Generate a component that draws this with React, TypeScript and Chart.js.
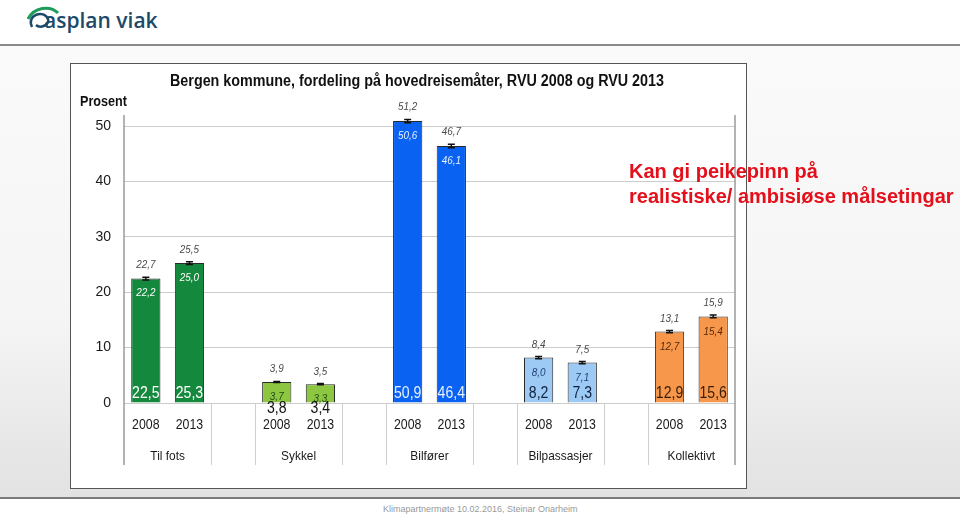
import React, { useEffect, useRef } from "react";
import { Chart, registerables } from "chart.js";
Chart.register(...registerables);

const groups = ["Til fots", "Sykkel", "Bilfører", "Bilpassasjer", "Kollektivt"];
const years = ["2008", "2013"];
const values = [22.5, 25.3, 3.8, 3.4, 50.9, 46.4, 8.2, 7.3, 12.9, 15.6];
const lowerCI = [22.2, 25.0, 3.7, 3.3, 50.6, 46.1, 8.0, 7.1, 12.7, 15.4];
const upperCI = [22.7, 25.5, 3.9, 3.5, 51.2, 46.7, 8.4, 7.5, 13.1, 15.9];
const groupColors = ["#14883c", "#8dc641", "#0a62f2", "#9ccaf4", "#f7974c"];
const valueTextColors = ["#ffffff", "#111111", "#e8f0ff", "#10223f", "#3a1c05"];
const lowerTextColors = ["#ffffff", "#1f4d12", "#e8f0ff", "#23407a", "#5a2a08"];
const yTicks = [0, 10, 20, 30, 40, 50];
const chartTitle = "Bergen kommune, fordeling på hovedreisemåter, RVU 2008 og RVU 2013";
const yTitle = "Prosent";

const fmt = (v: number) => v.toFixed(1).replace(".", ",");

// 14 slots: 2 bars per group, an empty slot between groups
const slotLabels: string[] = [];
const slotData: (number | null)[] = [];
const slotColors: string[] = [];
const barSlot: number[] = [];
groups.forEach((g, gi) => {
  years.forEach((y, yi) => {
    barSlot.push(slotLabels.length);
    slotLabels.push(y);
    slotData.push(values[gi * 2 + yi]);
    slotColors.push(groupColors[gi]);
  });
  if (gi < groups.length - 1) {
    slotLabels.push("");
    slotData.push(null);
    slotColors.push("rgba(0,0,0,0)");
  }
});

function drawText(
  ctx: CanvasRenderingContext2D,
  text: string,
  x: number,
  y: number,
  font: string,
  color: string,
  squash = 0.88,
  align: "center" | "left" = "center"
) {
  ctx.save();
  ctx.font = font;
  ctx.fillStyle = color;
  ctx.textBaseline = "middle";
  ctx.textAlign = align;
  ctx.translate(x, y);
  ctx.scale(squash, 1);
  ctx.fillText(text, 0, 0);
  ctx.restore();
}

const FONT = "'Liberation Sans', Arial, sans-serif";

const overlayPlugin = {
  id: "overlay",
  afterDatasetsDraw(chart: any) {
    const ctx: CanvasRenderingContext2D = chart.ctx;
    const xs = chart.scales.x;
    const ys = chart.scales.y;
    const area = chart.chartArea;
    const slotW = (area.right - area.left) / slotLabels.length;
    const below = 62;

    // axis / separator lines
    ctx.save();
    ctx.strokeStyle = "#9a9a9a";
    ctx.lineWidth = 1.5;
    ctx.beginPath();
    ctx.moveTo(area.left, area.top);
    ctx.lineTo(area.left, area.bottom + below);
    ctx.moveTo(area.right, area.top);
    ctx.lineTo(area.right, area.bottom + below);
    ctx.stroke();
    ctx.strokeStyle = "#cfcfcf";
    ctx.lineWidth = 1;
    ctx.beginPath();
    slotLabels.forEach((l, s) => {
      if (l === "") {
        const cx = xs.getPixelForValue(s);
        [cx - slotW / 2, cx + slotW / 2].forEach((lx) => {
          ctx.moveTo(Math.round(lx) + 0.5, area.bottom);
          ctx.lineTo(Math.round(lx) + 0.5, area.bottom + below);
        });
      }
    });
    ctx.stroke();
    ctx.restore();

    const y0 = ys.getPixelForValue(0);
    values.forEach((v, i) => {
      const gi = Math.floor(i / 2);
      const cx = xs.getPixelForValue(barSlot[i]);
      const yTop = ys.getPixelForValue(v);
      const yLo = ys.getPixelForValue(lowerCI[i]);
      const yHi = ys.getPixelForValue(upperCI[i]);
      // error bar
      ctx.save();
      ctx.strokeStyle = "#111";
      ctx.lineWidth = 1.5;
      ctx.beginPath();
      ctx.moveTo(cx, yLo);
      ctx.lineTo(cx, yHi);
      ctx.moveTo(cx - 3.5, yLo);
      ctx.lineTo(cx + 3.5, yLo);
      ctx.moveTo(cx - 3.5, yHi);
      ctx.lineTo(cx + 3.5, yHi);
      ctx.stroke();
      ctx.restore();
      // upper CI label
      drawText(ctx, fmt(upperCI[i]), cx, yHi - 12, `italic 11px ${FONT}`, "#4a4a4a", 0.9);
      // lower CI label
      drawText(ctx, fmt(lowerCI[i]), cx, yTop + 15, `italic 11px ${FONT}`, lowerTextColors[gi], 0.9);
      // value label
      const h = y0 - yTop;
      const vy = h < 30 ? y0 + 6 : y0 - 9;
      drawText(ctx, fmt(v), cx, vy, `16px ${FONT}`, valueTextColors[gi], 0.88);
      // year label
      drawText(ctx, years[i % 2], cx, area.bottom + 22, `14px ${FONT}`, "#1a1a1a", 0.88);
    });
    // group labels
    groups.forEach((g, gi) => {
      const cx = (xs.getPixelForValue(barSlot[gi * 2]) + xs.getPixelForValue(barSlot[gi * 2 + 1])) / 2;
      drawText(ctx, g, cx, area.bottom + 53, `13.5px ${FONT}`, "#1a1a1a", 0.88);
    });

    // title
    ctx.save();
    ctx.font = `bold 16px ${FONT}`;
    const tw = ctx.measureText(chartTitle).width;
    ctx.restore();
    drawText(ctx, chartTitle, 346, 18, `bold 16px ${FONT}`, "#111", 494 / tw);
    drawText(ctx, yTitle, 9, 38, `bold 14px ${FONT}`, "#111", 0.9, "left");
  },
};

function BarChart() {
  const ref = useRef<HTMLCanvasElement | null>(null);
  useEffect(() => {
    if (!ref.current) return;
    const chart = new Chart(ref.current, {
      type: "bar",
      data: {
        labels: slotLabels,
        datasets: [
          {
            data: slotData as any,
            backgroundColor: slotColors,
            borderColor: "#2a2a2a",
            borderWidth: 1,
            barPercentage: 0.67,
            categoryPercentage: 1,
          },
        ],
      },
      options: {
        animation: false,
        responsive: false,
        maintainAspectRatio: false,
        layout: { padding: { top: 51, right: 11, left: 0, bottom: 0 } },
        plugins: {
          legend: { display: false },
          tooltip: { enabled: false },
          title: { display: false },
        },
        scales: {
          x: {
            type: "category",
            grid: { display: false },
            border: { display: false },
            ticks: { display: false },
            afterFit: (s: any) => {
              s.height = 85;
            },
          },
          y: {
            min: 0,
            max: 52,
            afterBuildTicks: (s: any) => {
              s.ticks = yTicks.map((v) => ({ value: v }));
            },
            grid: { color: "#cccccc", lineWidth: 1, drawTicks: false },
            border: { display: false },
            ticks: {
              padding: 13,
              color: "#1a1a1a",
              font: { size: 14, family: FONT },
            },
            afterFit: (s: any) => {
              s.width = 53;
            },
          },
        },
      },
      plugins: [overlayPlugin],
    });
    return () => chart.destroy();
  }, []);
  return <canvas ref={ref} width={675} height={424} style={{ display: "block" }} />;
}

function Logo() {
  return (
    <div style={{ position: "absolute", left: 24, top: 3, width: 150, height: 34 }}>
      <svg width="40" height="32" style={{ position: "absolute", left: 0, top: 0 }}>
        <path d="M4 16 C 10 4, 26 2, 34 10" stroke="#1d9b5a" strokeWidth="3" fill="none" />
        <path d="M8 24 C 2 12, 20 6, 24 16 C 26 22, 16 26, 12 22" stroke="#1d4a6a" strokeWidth="2.5" fill="none" />
      </svg>
      <div
        style={{
          position: "absolute",
          left: 20,
          top: 3,
          fontFamily: "'Open Sans', sans-serif",
          fontWeight: 600,
          fontSize: 21,
          color: "#1d4a6a",
          whiteSpace: "nowrap",
        }}
      >
        asplan viak
      </div>
    </div>
  );
}

export default function App() {
  useEffect(() => {
    document.body.style.margin = "0";
  }, []);
  return (
    <div
      style={{
        position: "fixed",
        left: 0,
        top: 0,
        width: 960,
        height: 515,
        overflow: "hidden",
        background: "#ffffff",
        fontFamily: FONT,
      }}
    >
      <Logo />
      <div style={{ position: "absolute", left: 0, top: 44, width: 960, height: 2, background: "#8a8a8a" }} />
      <div
        style={{
          position: "absolute",
          left: 0,
          top: 46,
          width: 960,
          height: 451,
          background: "linear-gradient(#fafafa, #f5f5f5 60%, #e2e2e2)",
        }}
      />
      <div style={{ position: "absolute", left: 0, top: 497, width: 960, height: 2, background: "#7a7a7a" }} />
      <div
        style={{
          position: "absolute",
          left: 383,
          top: 504,
          fontSize: 9,
          color: "#9a9a9a",
          whiteSpace: "nowrap",
        }}
      >
        Klimapartnermøte 10.02.2016, Steinar Onarheim
      </div>
      <div
        style={{
          position: "absolute",
          left: 70,
          top: 63,
          width: 675,
          height: 424,
          border: "1.5px solid #555",
          background: "#ffffff",
        }}
      >
        <BarChart />
      </div>
      <div
        style={{
          position: "absolute",
          left: 629,
          top: 159,
          fontSize: 20,
          lineHeight: "25px",
          fontWeight: "bold",
          color: "#e3101b",
          whiteSpace: "nowrap",
        }}
      >
        Kan gi peikepinn på
        <br />
        realistiske/ ambisiøse målsetingar
      </div>
    </div>
  );
}
